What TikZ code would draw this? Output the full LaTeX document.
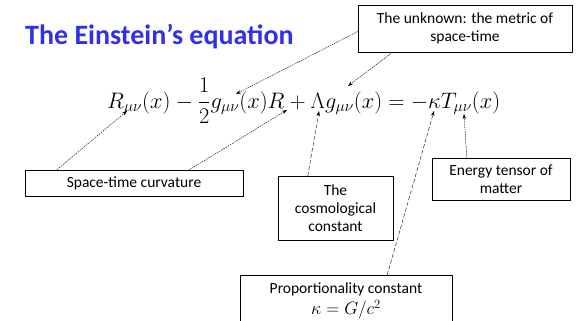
\RequirePackage{fix-cm}
\documentclass[tikz,border=0pt]{standalone}
\usepackage{amsmath}
\usepackage{fontspec}
\setmainfont{Carlito}
\usepackage{tikz}
\usetikzlibrary{arrows.meta,calc,positioning,shadows}
\definecolor{titleblue}{RGB}{48,48,235}

\begin{document}
\begin{tikzpicture}[x=1pt,y=-1pt,
    labelbox/.style={draw,thin,fill=white,align=center,inner sep=2pt,
      font=\fontsize{15.5}{18}\selectfont,
      drop shadow={shadow xshift=1pt,shadow yshift=-1pt,fill=gray!50,opacity=.6}},
    pointer/.style={-{Stealth[length=5pt,width=3.5pt]},dash pattern=on 1.6pt off 0.9pt,thin},
    longpointer/.style={pointer,dash pattern=on 4pt off 2pt}]
  \useasboundingbox (0,0) rectangle (581,321);
  % title
  \node[anchor=west,inner sep=0,text=titleblue,font=\fontsize{28}{30}\selectfont\bfseries] (title) at (25,37) {The Einstein’s equation};
  % the equation
  \node[anchor=base west,inner sep=0,font=\fontsize{22.4}{27}\selectfont] (eq) at (107,108)
    {$\displaystyle R_{\mu\nu}(x)-\frac{1}{2}g_{\mu\nu}(x)R+\Lambda g_{\mu\nu}(x)=-\kappa T_{\mu\nu}(x)$};
  % points of the equation the arrows go to
  \coordinate (tRmn) at ($(eq.base west)+(20,3)$);
  \coordinate (tgone) at ($(eq.base west)+(129,-14)$);
  \coordinate (tR) at ($(eq.base west)+(180,2)$);
  \coordinate (tlam) at ($(eq.base west)+(212,3)$);
  \coordinate (tgtwo) at ($(eq.base west)+(241,-22)$);
  \coordinate (tkap) at ($(eq.base west)+(327,3)$);
  \coordinate (tT) at ($(eq.base west)+(357,6)$);
  % the boxes
  \node[labelbox,minimum width=214,minimum height=47] (unknown) at (465,28.5) {The unknown: the metric of\\space-time};
  \node[labelbox,minimum width=218,minimum height=26] (curv) at (134,183) {Space-time curvature};
  \node[labelbox,minimum width=115,minimum height=64] (cosmo) at (335.5,208) {The\\cosmological\\constant};
  \node[labelbox,minimum width=138,minimum height=42] (energy) at (501,179) {Energy tensor of\\matter};
  \node[labelbox,minimum width=212,minimum height=52,anchor=north,font=\fontsize{15.5}{15}\selectfont] (prop) at (346,275)
    {Proportionality constant\\[3pt]{\fontsize{18}{20}\selectfont$\kappa=G/c^2$}};
  % arrows
  \draw[pointer] ([yshift=-3pt]unknown.west) -- (tgone);
  \draw[pointer] ([xshift=35pt]unknown.south west) -- (tgtwo);
  \draw[pointer] ([xshift=32pt]curv.north west) -- (tRmn);
  \draw[pointer] ([xshift=-54pt]curv.north east) -- (tR);
  \draw[longpointer] ([xshift=30pt]cosmo.north west) -- (tlam);
  \draw[longpointer] ([xshift=-65pt]prop.north east) -- (tkap);
  \draw[pointer] ([xshift=35pt]energy.north west) -- (tT);
\end{tikzpicture}
\end{document}
